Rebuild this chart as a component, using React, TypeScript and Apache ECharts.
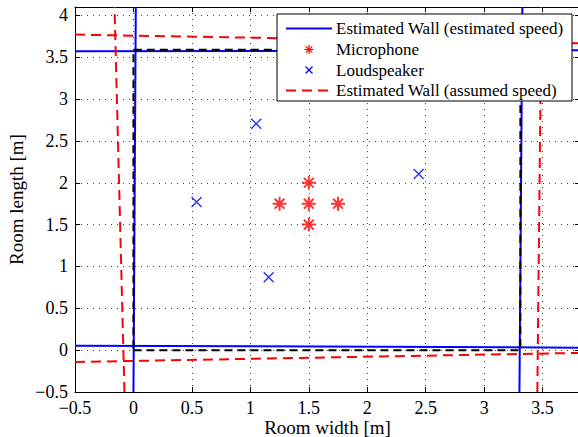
import React, { useEffect, useRef } from 'react';
import * as echarts from 'echarts';

// ---- data ----
const xRange = [-0.5, 3.82];
const yRange = [-0.5, 4.1];
const tickStep = 0.5;

const microphones: number[][] = [
  [1.5, 2.0],
  [1.25, 1.75],
  [1.5, 1.75],
  [1.75, 1.75],
  [1.5, 1.5],
];
const loudspeakers: number[][] = [
  [1.05, 2.705],
  [0.54, 1.77],
  [1.157, 0.872],
  [2.44, 2.104],
];
// Estimated walls (estimated speed): each wall = two end points
const wallsEstimatedSpeed: number[][][] = [
  [[0.0, -0.5], [0.02, 4.1]],
  [[3.302, -0.5], [3.327, 4.1]],
  [[-0.5, 3.571], [3.82, 3.583]],
  [[-0.5, 0.054], [3.82, 0.03]],
];
// Estimated walls (assumed speed)
const wallsAssumedSpeed: number[][][] = [
  [[-0.077, -0.5], [-0.162, 4.1]],
  [[3.455, -0.5], [3.49, 4.1]],
  [[-0.5, 3.77], [3.82, 3.665]],
  [[-0.5, -0.141], [3.82, -0.033]],
];
// true room outline
const trueRoom: number[][] = [
  [0, 0],
  [3.31, 0],
  [3.31, 3.59],
  [0, 3.59],
  [0, 0],
];
const legendLabels = [
  'Estimated Wall (estimated speed)',
  'Microphone',
  'Loudspeaker',
  'Estimated Wall (assumed speed)',
];
const xTitle = 'Room width [m]';
const yTitle = 'Room length [m]';

const FONT = 'Liberation Serif, serif';
const ASTERISK = 'path://M10,0 L10,20 M0,10 L20,10 M3,3 L17,17 M3,17 L17,3';
const CROSS = 'path://M0,0 L20,20 M0,20 L20,0';

const fmt = (v: number) => {
  const k = v / tickStep;
  if (Math.abs(k - Math.round(k)) > 1e-6) return '';
  const r = Math.round(v * 100) / 100;
  return String(r).replace('-', '\u2212');
};

const BLUE = '#0000ff';
const RED = '#ff0000';

export default function App() {
  const ref = useRef<HTMLDivElement>(null);
  useEffect(() => {
    if (!ref.current) return;
    const chart = echarts.init(ref.current, undefined, { renderer: 'svg' });

    const series: any[] = [];
    wallsEstimatedSpeed.forEach((w) =>
      series.push({
        type: 'line',
        data: w,
        symbol: 'none',
        clip: true,
        z: 2,
        lineStyle: { color: BLUE, width: 2 },
      })
    );
    wallsAssumedSpeed.forEach((w) =>
      series.push({
        type: 'line',
        data: w,
        symbol: 'none',
        clip: true,
        z: 3,
        lineStyle: { color: RED, width: 2, type: [10, 6] },
      })
    );
    series.push({
      type: 'line',
      data: trueRoom,
      symbol: 'none',
      clip: true,
      z: 4,
      lineStyle: { color: '#000', width: 2, type: [8, 5] },
    });
    series.push({
      type: 'scatter',
      data: microphones,
      symbol: ASTERISK,
      symbolSize: 14,
      z: 5,
      itemStyle: { color: RED, borderColor: RED, borderWidth: 2 },
    });
    series.push({
      type: 'scatter',
      data: loudspeakers,
      symbol: CROSS,
      symbolSize: 10,
      z: 5,
      itemStyle: { color: BLUE, borderColor: BLUE, borderWidth: 1.5 },
    });

    const lx = 277, ly = 14, lw = 295, lh = 87;
    const rows = [28.5, 49.5, 70, 90.5];
    const sx0 = 286, sx1 = 332, sxm = 309, tx = 336;
    const legend: any[] = [
      {
        type: 'rect',
        shape: { x: lx, y: ly, width: lw, height: lh },
        style: { fill: '#fff', stroke: '#000', lineWidth: 1 },
        z: 100,
      },
      {
        type: 'line',
        shape: { x1: sx0, y1: rows[0], x2: sx1, y2: rows[0] },
        style: { stroke: BLUE, lineWidth: 2 },
        z: 101,
      },
      {
        type: 'line',
        shape: { x1: sx0, y1: rows[3], x2: sx1, y2: rows[3] },
        style: { stroke: RED, lineWidth: 2, lineDash: [10, 6] },
        z: 101,
      },
    ];
    // asterisk in legend
    const a = 4.5, d = 3.2;
    [
      [0, -a, 0, a],
      [-a, 0, a, 0],
      [-d, -d, d, d],
      [-d, d, d, -d],
    ].forEach(([x1, y1, x2, y2]) =>
      legend.push({
        type: 'line',
        shape: { x1: sxm + x1, y1: rows[1] + y1, x2: sxm + x2, y2: rows[1] + y2 },
        style: { stroke: RED, lineWidth: 1.2 },
        z: 101,
      })
    );
    const c = 3.5;
    [
      [-c, -c, c, c],
      [-c, c, c, -c],
    ].forEach(([x1, y1, x2, y2]) =>
      legend.push({
        type: 'line',
        shape: { x1: sxm + x1, y1: rows[2] + y1, x2: sxm + x2, y2: rows[2] + y2 },
        style: { stroke: BLUE, lineWidth: 1.2 },
        z: 101,
      })
    );
    legendLabels.forEach((t, i) =>
      legend.push({
        type: 'text',
        x: tx,
        y: rows[i],
        style: {
          text: t,
          fontFamily: FONT,
          fontSize: 17,
          fill: '#000',
          verticalAlign: 'middle',
        },
        z: 101,
      })
    );

    const axisCommon = {
      interval: tickStep,
      axisLine: { show: true, onZero: false, lineStyle: { color: '#000', width: 1 } },
      axisTick: { show: true, inside: true, length: 5, lineStyle: { color: '#000' } },
    };

    chart.setOption({
      animation: false,
      backgroundColor: '#fff',
      textStyle: { fontFamily: FONT },
      grid: {
        left: 75,
        right: -2,
        top: 7,
        bottom: 45,
        containLabel: false,
        outerBoundsMode: 'none',
      },
      xAxis: [
        {
          ...axisCommon,
          type: 'value',
          position: 'bottom',
          min: xRange[0],
          max: xRange[1],
          name: xTitle,
          nameLocation: 'middle',
          nameGap: 26,
          nameMoveOverlap: false,
          nameTextStyle: { fontFamily: FONT, fontSize: 19, color: '#000' },
          axisLabel: {
            formatter: fmt,
            margin: 7,
            fontFamily: FONT,
            fontSize: 18,
            color: '#000',
            showMaxLabel: false,
          },
          splitLine: { show: true, lineStyle: { color: '#444', width: 1, type: [1, 5] } },
        },
        {
          ...axisCommon,
          type: 'value',
          position: 'top',
          min: xRange[0],
          max: xRange[1],
          axisLabel: { show: false },
          splitLine: { show: false },
        },
      ],
      yAxis: [
        {
          ...axisCommon,
          type: 'value',
          position: 'left',
          min: yRange[0],
          max: yRange[1],
          name: yTitle,
          nameLocation: 'middle',
          nameGap: 49,
          nameMoveOverlap: false,
          nameRotate: 90,
          nameTextStyle: { fontFamily: FONT, fontSize: 19, color: '#000' },
          axisLabel: {
            formatter: fmt,
            margin: 7,
            fontFamily: FONT,
            fontSize: 18,
            color: '#000',
            showMaxLabel: false,
          },
          splitLine: { show: true, lineStyle: { color: '#444', width: 1, type: [1, 5] } },
        },
        {
          ...axisCommon,
          type: 'value',
          position: 'right',
          min: yRange[0],
          max: yRange[1],
          axisLabel: { show: false },
          splitLine: { show: false },
        },
      ],
      series,
      graphic: legend,
    });
    return () => chart.dispose();
  }, []);
  return (
    <div
      ref={ref}
      style={{ position: 'absolute', left: 0, top: 0, width: 578, height: 437 }}
    />
  );
}
